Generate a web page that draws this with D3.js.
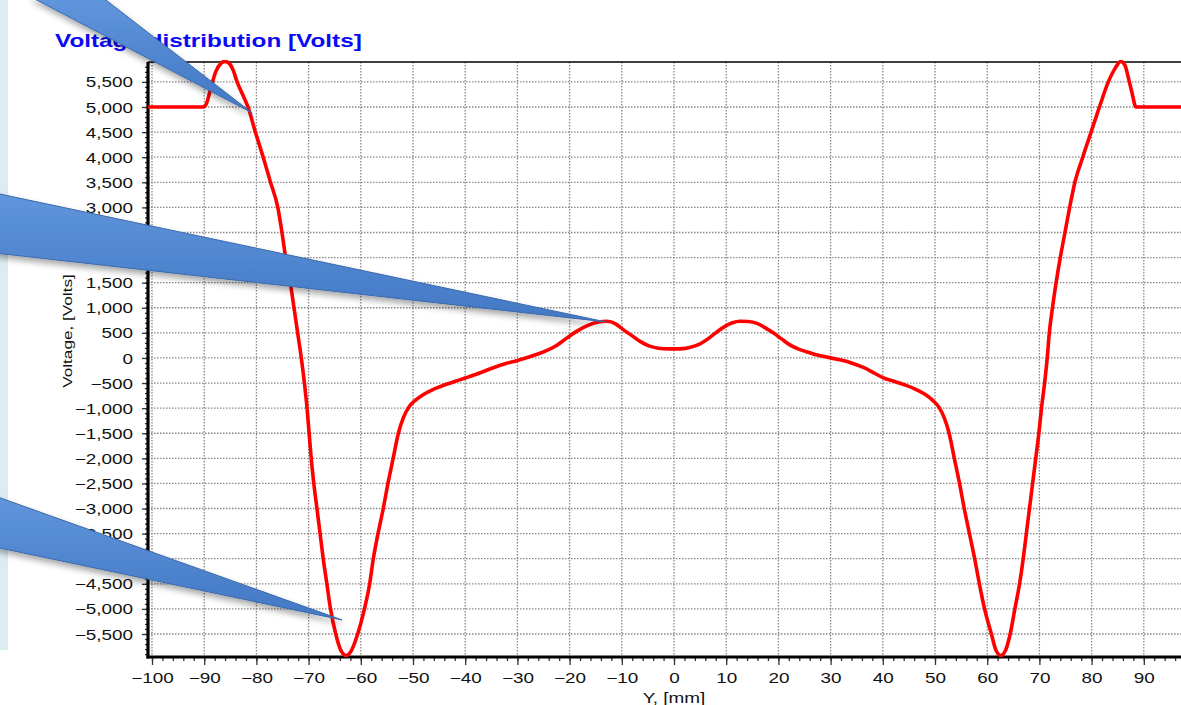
<!DOCTYPE html>
<html>
<head>
<meta charset="utf-8">
<script src="https://cdn.jsdelivr.net/npm/d3@7"></script>
<style>
  html, body { margin: 0; padding: 0; background: #fff; overflow: hidden; }
  svg { display: block; font-family: "Liberation Sans", Arial, sans-serif; }
</style>
</head>
<body>
<div id="chart"></div>
<script>
// Position along Y [mm] and the voltage.
const positions = [
  -101, -90.2, -89.6, -88.8, -87.8, -86.8, -86.0, -85.2, -84.4, -83.7, -82.6, -81.6,
  -80.2, -78.7, -77.3, -75.9, -75.1, -74.4, -73.5, -72.8, -72.1, -71.4, -70.8, -70.3,
  -69.9, -69.5, -69.0, -68.4, -67.8, -67.2, -66.5, -65.8, -64.8, -63.8, -62.8, -61.8,
  -60.6, -59.3, -58.3, -57.6, -56.7, -55.7, -54.8, -53.8, -52.8, -51.8, -50.8, -49.5,
  -48.0, -46.0, -44.0, -42.0, -40.0, -37.5, -35.0, -32.5, -30.0, -27.5, -25.0, -22.5,
  -20.5, -18.5, -16.5, -14.5, -12.8, -11.2, -9.8, -8.0, -6.5, -4.8, -3.0, -1.0,
  1.0, 3.0, 4.8, 6.5, 8.0, 9.6, 11.2, 12.6, 14.2, 15.9, 17.5, 19.0,
  20.6, 22.2, 24.0, 25.5, 27.0, 28.5, 31.0, 33.7, 36.5, 38.5, 40.0, 42.0,
  44.0, 46.0, 48.0, 49.5, 50.8, 51.8, 52.7, 53.7, 54.7, 55.6, 56.6, 57.6,
  58.5, 59.5, 60.8, 61.7, 62.6, 63.5, 64.4, 65.3, 66.2, 66.9, 67.5, 68.1,
  68.7, 69.3, 69.9, 70.4, 71.0, 71.5, 71.9, 72.5, 73.2, 74.0, 74.9, 75.8,
  76.8, 78.3, 79.9, 81.5, 83.2, 84.5, 85.6, 86.4, 87.0, 87.7, 88.5, 88.8,
  101
];
const volts = [
  5000, 5000, 5060, 5350, 5700, 5870, 5910, 5870, 5720, 5500, 5240, 5000,
  4500, 4000, 3500, 3000, 2500, 2000, 1500, 1000, 500, 0, -500, -1000,
  -1500, -2000, -2500, -3000, -3500, -4000, -4500, -5000, -5500, -5830, -5930, -5830,
  -5500, -5000, -4500, -4000, -3500, -3000, -2500, -2000, -1500, -1180, -980, -840,
  -730, -620, -540, -470, -400, -310, -210, -120, -50, 30, 120, 250,
  400, 540, 650, 715, 730, 680, 570, 440, 330, 240, 195, 180,
  180, 210, 270, 380, 500, 620, 700, 730, 725, 690, 600, 500,
  380, 260, 170, 120, 70, 35, -20, -90, -200, -310, -390, -460,
  -530, -610, -720, -840, -990, -1200, -1500, -2000, -2500, -3000, -3500, -4000,
  -4500, -5000, -5500, -5830, -5930, -5830, -5500, -5000, -4500, -4000, -3500, -3000,
  -2500, -2000, -1500, -1000, -500, 0, 500, 1000, 1500, 2000, 2500, 3000,
  3500, 4000, 4500, 5000, 5500, 5770, 5910, 5830, 5600, 5300, 5000, 5000,
  5000
];

const xMajorTicks = d3.range(-100, 101, 10);
const xMinorTicks = d3.range(-100, 101, 2);
const yMajorTicks = d3.range(-5500, 5501, 500);
const yMinorTicks = d3.range(-5900, 5801, 100);

const titleText = "Voltage distribution [Volts]";
const xTitle = "Y, [mm]";
const yTitle = "Voltage, [Volts]";

// callout tips, in data units
const calloutTips = [[-80.8, 4880], [-13.0, 717], [-63.6, -5220]];

const width = 1181;
const height = 705;
const plotLeft = 148;
const plotTop = 62;
const plotBottom = 657;
const stretch = 1.35; // text in the picture is stretched sideways

const x = d3.scaleLinear().domain([-100, 100]).range([152, 1196]);
const y = d3.scaleLinear().domain([-5500, 5000]).range([634, 107]);

const svg = d3.select("#chart").append("svg")
  .attr("width", width).attr("height", height);

const defs = svg.append("defs");
defs.append("clipPath").attr("id", "plotclip").append("rect")
  .attr("x", plotLeft).attr("y", plotTop - 2)
  .attr("width", width - plotLeft).attr("height", plotBottom - plotTop + 2);

const grad = defs.append("linearGradient").attr("id", "callfill")
  .attr("x1", 0).attr("y1", 0).attr("x2", 0).attr("y2", 1);
grad.append("stop").attr("offset", "0%").attr("stop-color", "#6096dc");
grad.append("stop").attr("offset", "100%").attr("stop-color", "#4277c4");

const shadow = defs.append("filter").attr("id", "shadow")
  .attr("x", "-20%").attr("y", "-20%").attr("width", "140%").attr("height", "160%");
shadow.append("feDropShadow").attr("dx", 1).attr("dy", 4)
  .attr("stdDeviation", 3).attr("flood-color", "#000").attr("flood-opacity", 0.35);

// light blue slide strip at the left
svg.append("rect").attr("x", 0).attr("y", 0).attr("width", 8).attr("height", 650)
  .attr("fill", "#dbedf3");

// grid
const grid = svg.append("g").attr("stroke", "#888").attr("stroke-width", 1.3)
  .attr("stroke-dasharray", "1.5,1.5").attr("clip-path", "url(#plotclip)");
grid.selectAll(".gx").data(xMajorTicks).join("line")
  .attr("x1", d => x(d)).attr("x2", d => x(d))
  .attr("y1", plotTop).attr("y2", plotBottom);
grid.selectAll(".gy").data(yMajorTicks).join("line")
  .attr("y1", d => y(d)).attr("y2", d => y(d))
  .attr("x1", plotLeft).attr("x2", width);

// axes
const xAxisG = svg.append("g").attr("transform", `translate(0,${plotBottom})`);
xAxisG.append("g").call(d3.axisBottom(x).tickValues(xMinorTicks).tickSize(4).tickFormat(""))
  .call(g => g.select(".domain").remove());
xAxisG.append("g").call(d3.axisBottom(x).tickValues(xMajorTicks).tickSize(8))
  .call(g => g.select(".domain").remove())
  .call(g => g.selectAll("text")
    .attr("y", 26).attr("dy", null)
    .attr("font-size", 14).attr("fill", "#111")
    .attr("font-family", "Liberation Sans, Arial, sans-serif")
    .attr("transform", `scale(${stretch},1)`));
xAxisG.selectAll("line").attr("stroke", "#333").attr("stroke-width", 1.3);

const yAxisG = svg.append("g").attr("transform", `translate(${plotLeft},0)`);
yAxisG.append("g").call(d3.axisLeft(y).tickValues(yMinorTicks).tickSize(3).tickFormat(""))
  .call(g => g.select(".domain").remove());
yAxisG.append("g").call(d3.axisLeft(y).tickValues(yMajorTicks).tickSize(6).tickFormat(d3.format(",")))
  .call(g => g.select(".domain").remove())
  .call(g => g.selectAll("text")
    .attr("x", -15 / stretch).attr("dy", "0.36em")
    .attr("font-size", 14).attr("fill", "#111")
    .attr("font-family", "Liberation Sans, Arial, sans-serif")
    .attr("transform", `scale(${stretch},1)`));
yAxisG.selectAll("line").attr("stroke", "#333").attr("stroke-width", 1.3);

// frame lines
svg.append("line").attr("x1", plotLeft).attr("x2", width)
  .attr("y1", plotTop).attr("y2", plotTop).attr("stroke", "#000").attr("stroke-width", 1.5);
svg.append("line").attr("x1", plotLeft).attr("x2", plotLeft)
  .attr("y1", plotTop).attr("y2", plotBottom + 1.5).attr("stroke", "#000").attr("stroke-width", 3.2);
svg.append("line").attr("x1", plotLeft - 1.5).attr("x2", width)
  .attr("y1", plotBottom).attr("y2", plotBottom).attr("stroke", "#000").attr("stroke-width", 3.2);

// the curve
const points = positions.map((p, i) => [p, volts[i]]);
const line = d3.line().x(d => x(d[0])).y(d => y(d[1])).curve(d3.curveMonotoneX);
svg.append("path").datum(points)
  .attr("clip-path", "url(#plotclip)")
  .attr("d", line)
  .attr("fill", "none").attr("stroke", "#ff0000").attr("stroke-width", 3.6)
  .attr("stroke-linejoin", "round");

// titles
svg.append("text").attr("transform", `translate(55,47) scale(${stretch},1)`)
  .attr("font-size", 18).attr("font-weight", "bold").attr("fill", "#0a0af5")
  .text(titleText);
svg.append("text").attr("transform", `translate(674,703) scale(${stretch},1)`)
  .attr("text-anchor", "middle").attr("font-size", 14).attr("fill", "#111")
  .text(xTitle);
svg.append("text").attr("transform", `translate(72,331) rotate(-90) scale(${stretch - 0.03},1)`)
  .attr("text-anchor", "middle").attr("font-size", 13).attr("fill", "#111")
  .text(yTitle);

// callout pointers (their boxes sit off the left / top of the picture)
const calloutBases = [
  [[102, -3], [31, -3]],
  [[-5, 193], [-5, 253]],
  [[-5, 496], [-5, 547]]
];
const callouts = svg.append("g").attr("filter", "url(#shadow)");
calloutTips.forEach((tip, i) => {
  const tx = x(tip[0]), ty = y(tip[1]);
  const b = calloutBases[i];
  callouts.append("path")
    .attr("d", `M${b[0][0]},${b[0][1]}L${tx},${ty}L${b[1][0]},${b[1][1]}Z`)
    .attr("fill", "url(#callfill)")
    .attr("stroke", "#3b6aad").attr("stroke-width", 1);
});
</script>
</body>
</html>
